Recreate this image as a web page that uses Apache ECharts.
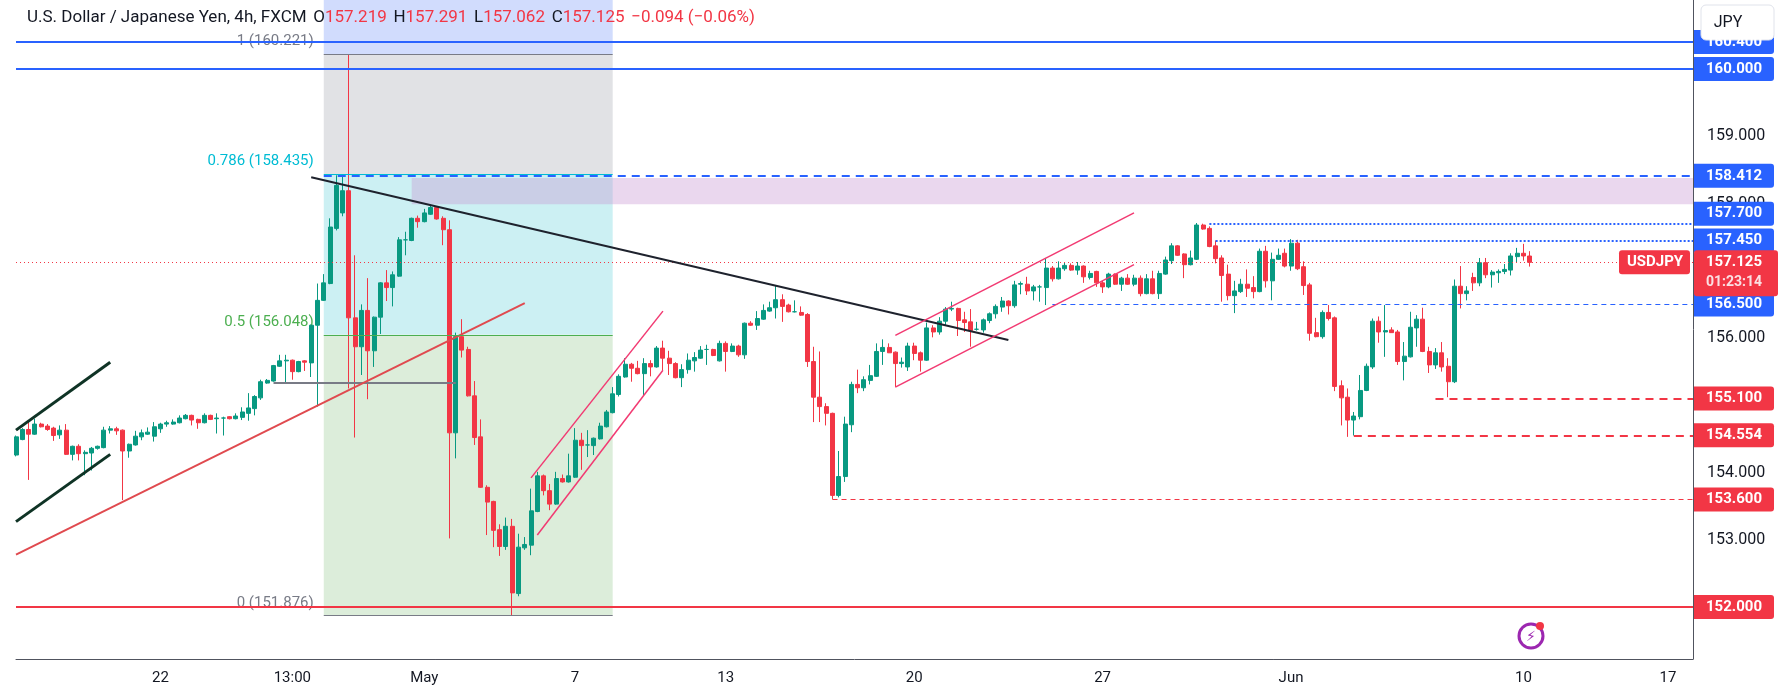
<!DOCTYPE html>
<html>
<head>
<meta charset="utf-8">
<script src="https://cdn.jsdelivr.net/npm/echarts@6/dist/echarts.min.js"></script>
<style>html,body{margin:0;padding:0;background:#fff}#chart{width:1778px;height:699px}</style>
</head>
<body>
<div id="chart"></div>
<script>
// 4h candles, [open, high, low, close]
var ohlc = [
[154.26,154.55,154.24,154.53],[154.49,154.66,154.48,154.64],[154.64,154.78,153.89,154.57],[154.57,154.80,154.56,154.72],
[154.72,154.74,154.67,154.68],[154.69,154.72,154.62,154.64],[154.66,154.68,154.47,154.55],[154.56,154.70,154.50,154.63],
[154.63,154.72,154.26,154.27],[154.27,154.40,154.18,154.39],[154.39,154.42,154.18,154.28],[154.28,154.33,153.96,154.30],
[154.29,154.38,154.03,154.36],[154.36,154.40,154.34,154.39],[154.37,154.68,154.36,154.63],[154.63,154.69,154.58,154.65],
[154.65,154.68,154.56,154.62],[154.63,154.64,153.59,154.32],[154.32,154.43,154.22,154.42],[154.41,154.62,154.40,154.54],
[154.53,154.64,154.48,154.59],[154.57,154.67,154.56,154.60],[154.54,154.75,154.46,154.68],[154.65,154.74,154.59,154.72],
[154.72,154.77,154.68,154.74],[154.72,154.79,154.71,154.75],[154.74,154.85,154.73,154.81],[154.80,154.87,154.79,154.85],
[154.85,154.86,154.70,154.78],[154.79,154.80,154.65,154.74],[154.74,154.88,154.73,154.85],[154.85,154.86,154.78,154.79],
[154.80,154.88,154.58,154.81],[154.81,154.83,154.55,154.81],[154.83,154.84,154.79,154.80],[154.80,154.88,154.79,154.84],
[154.82,154.97,154.78,154.90],[154.88,155.18,154.77,154.96],[154.95,155.15,154.85,155.13],[155.11,155.38,155.08,155.35],
[155.33,155.39,155.32,155.37],[155.36,155.60,155.35,155.59],[155.58,155.75,155.57,155.66],[155.66,155.75,155.32,155.67],
[155.67,155.68,155.38,155.50],[155.50,155.66,155.49,155.65],[155.66,155.67,155.51,155.64],[155.63,156.20,155.42,156.19],
[156.19,156.81,154.98,156.56],[156.56,156.95,156.55,156.82],[156.81,157.78,156.80,157.65],[157.63,158.42,157.60,158.27],
[157.86,158.42,157.81,158.19],[158.19,160.22,155.25,156.30],[156.30,157.23,154.52,155.87],[155.87,156.50,155.45,156.41],
[156.41,156.89,155.09,155.81],[155.81,156.32,155.57,156.31],[156.31,156.83,156.06,156.82],[156.82,157.01,156.55,156.75],
[156.75,156.99,156.47,156.94],[156.92,157.50,156.91,157.46],[157.46,157.58,157.23,157.46],[157.45,157.79,157.44,157.78],
[157.78,157.82,157.64,157.73],[157.73,157.92,157.72,157.86],[157.84,157.98,157.83,157.94],[157.94,157.96,157.76,157.77],
[157.78,157.81,157.38,157.61],[157.61,157.75,153.02,154.59],[154.59,156.08,154.21,156.02],[156.02,156.28,155.71,155.82],
[155.83,155.87,155.13,155.14],[155.14,155.36,154.41,154.52],[154.53,154.79,153.77,153.78],[153.78,153.81,153.07,153.56],
[153.57,153.58,152.89,153.14],[153.15,153.23,152.76,152.90],[152.90,153.33,152.85,153.20],[153.20,153.31,151.88,152.21],
[152.20,153.09,152.16,152.89],[152.88,153.04,152.85,152.93],[152.92,153.76,152.77,153.43],[153.42,154.01,153.41,153.95],
[153.95,153.97,153.66,153.73],[153.73,153.83,153.44,153.53],[153.53,154.01,153.52,153.91],[153.91,153.97,153.85,153.86],
[153.86,154.28,153.85,153.95],[153.93,154.66,153.92,154.48],[154.48,154.59,154.04,154.40],[154.41,154.63,154.23,154.41],
[154.40,154.52,154.26,154.51],[154.50,154.74,154.49,154.69],[154.68,154.93,154.67,154.90],[154.89,155.27,154.88,155.17],
[155.16,155.46,155.13,155.43],[155.42,155.70,155.41,155.61],[155.61,155.63,155.35,155.55],[155.55,155.66,155.46,155.47],
[155.47,155.70,155.15,155.62],[155.62,155.67,155.43,155.57],[155.57,155.88,155.56,155.85],[155.85,155.96,155.52,155.70],
[155.70,155.81,155.45,155.62],[155.62,155.64,155.40,155.41],[155.41,155.61,155.27,155.53],[155.53,155.77,155.47,155.67],
[155.66,155.79,155.50,155.71],[155.70,155.88,155.69,155.82],[155.83,155.90,155.60,155.83],[155.83,155.84,155.73,155.74],
[155.66,155.96,155.65,155.92],[155.92,155.95,155.50,155.80],[155.80,155.92,155.79,155.88],[155.88,155.90,155.72,155.75],
[155.75,156.23,155.69,156.22],[156.22,156.25,156.18,156.19],[156.19,156.40,156.12,156.29],[156.28,156.50,156.27,156.41],
[156.40,156.54,156.39,156.45],[156.45,156.78,156.29,156.57],[156.57,156.65,156.24,156.47],[156.49,156.51,156.38,156.39],
[156.39,156.56,156.38,156.39],[156.38,156.47,156.33,156.34],[156.35,156.37,155.57,155.65],[155.65,155.87,154.75,155.12],
[155.12,155.80,154.75,154.98],[154.98,155.03,154.70,154.88],[154.88,154.89,153.60,153.66],[153.66,154.32,153.63,153.94],
[153.94,154.83,153.86,154.72],[154.71,155.35,154.60,155.31],[155.31,155.53,155.18,155.26],[155.26,155.43,155.21,155.38],
[155.37,155.60,155.31,155.44],[155.43,155.92,155.42,155.80],[155.80,155.98,155.60,155.86],[155.86,155.92,155.78,155.78],
[155.79,155.80,155.27,155.62],[155.62,155.71,155.56,155.64],[155.57,155.93,155.51,155.88],[155.88,155.93,155.67,155.77],
[155.78,155.80,155.50,155.67],[155.67,156.23,155.66,156.15],[156.15,156.19,156.01,156.09],[156.09,156.31,156.05,156.25],
[156.25,156.46,156.19,156.43],[156.43,156.54,156.40,156.44],[156.44,156.45,156.03,156.26],[156.27,156.39,156.09,156.23],
[156.24,156.43,155.87,156.11],[156.13,156.24,156.11,156.13],[156.12,156.29,156.08,156.27],[156.26,156.38,156.22,156.36],
[156.36,156.50,156.29,156.47],[156.46,156.61,156.39,156.55],[156.55,156.56,156.35,156.48],[156.48,156.85,156.45,156.79],
[156.80,156.84,156.65,156.81],[156.80,156.91,156.64,156.70],[156.70,156.79,156.56,156.76],[156.76,156.79,156.54,156.76],
[156.75,157.19,156.49,157.04],[157.04,157.07,156.84,156.88],[156.88,157.14,156.87,157.04],[157.03,157.13,157.00,157.08],
[157.08,157.11,157.00,157.01],[157.01,157.13,156.94,157.07],[157.07,157.08,156.82,156.91],[156.90,157.00,156.87,156.96],
[156.99,157.00,156.76,156.82],[156.82,156.85,156.67,156.76],[156.76,156.97,156.74,156.95],[156.95,156.96,156.79,156.80],
[156.80,156.91,156.70,156.89],[156.89,156.95,156.79,156.80],[156.80,156.94,156.77,156.89],[156.89,156.93,156.62,156.66],
[156.66,156.95,156.65,156.88],[156.88,157.00,156.65,156.66],[156.66,157.00,156.58,156.96],[156.95,157.21,156.94,157.16],
[157.15,157.41,157.10,157.37],[157.37,157.38,157.22,157.23],[157.25,157.26,156.89,157.09],[157.09,157.30,157.08,157.19],
[157.17,157.71,157.16,157.68],[157.68,157.70,157.61,157.62],[157.63,157.66,157.35,157.36],[157.37,157.45,157.11,157.18],
[157.19,157.23,156.54,156.93],[156.95,157.09,156.56,156.63],[156.63,156.85,156.37,156.70],[156.69,156.88,156.67,156.80],
[156.80,157.02,156.61,156.74],[156.75,156.92,156.59,156.69],[156.69,157.33,156.68,157.29],[157.29,157.37,156.75,156.85],
[156.85,157.27,156.56,157.17],[157.17,157.33,157.16,157.23],[157.26,157.33,157.05,157.07],[157.07,157.47,157.00,157.41],
[157.41,157.46,157.01,157.03],[157.06,157.14,156.64,156.78],[156.79,156.82,155.96,156.07],[156.08,156.30,156.01,156.02],
[156.02,156.41,155.99,156.38],[156.38,156.49,156.26,156.29],[156.30,156.32,155.21,155.28],[155.29,155.37,154.70,155.11],
[155.12,155.25,154.53,154.78],[154.78,154.90,154.55,154.84],[154.83,155.45,154.79,155.22],[155.22,155.62,155.21,155.58],
[155.57,156.29,155.54,156.25],[156.25,156.32,155.93,156.09],[156.09,156.49,155.72,156.11],[156.12,156.16,156.08,156.08],
[156.09,156.12,155.60,155.65],[155.65,155.94,155.37,155.73],[155.72,156.39,155.71,156.16],[156.15,156.34,155.87,156.28],
[156.28,156.45,155.79,155.80],[155.80,155.87,155.48,155.60],[155.60,155.85,155.54,155.78],[155.78,155.94,155.50,155.57],
[155.58,155.70,155.12,155.35],[155.35,156.87,155.33,156.77],[156.77,157.07,156.44,156.66],[156.66,156.77,156.56,156.70],
[156.90,156.97,156.70,156.82],[156.82,157.19,156.77,157.12],[157.12,157.19,156.89,156.94],[156.94,157.01,156.75,156.98],
[156.97,157.02,156.82,156.99],[156.99,157.10,156.95,157.02],[157.01,157.26,156.93,157.22],[157.21,157.34,157.13,157.26],
[157.26,157.40,157.15,157.22],[157.219,157.291,157.062,157.125]
];
var slotCount = 268;  // includes empty space on the right
var xTicks = [[23,'22'],[44,'13:00'],[65,'May'],[89,'7'],[113,'13'],[143,'20'],[173,'27'],[203,'Jun'],[240,'10'],[263,'17']];
var yLabels = [152,153,154,155,156,157,158,159,160];
var yMin = 151.227, yMax = 161.026;

// fib retracement
var fibFrom = 49, fibTo = 95.3;
var fibLevels = [[160.221,'1 (160.221)','#787b86'],[158.435,'0.786 (158.435)','#00bcd4'],[156.048,'0.5 (156.048)','#4caf50'],[151.876,'0 (151.876)','#787b86']];
// horizontal levels: [price, start index, color, type, width, end index]
var levels = [
  [160.40, 0, '#2962ff', 'solid', 2],
  [160.00, 0, '#2962ff', 'solid', 2],
  [152.00, 0, '#f23645', 'solid', 2],
  [158.412, 49, '#2962ff', [8,6], 2],
  [157.70, 189.5, '#2962ff', 'dotted', 2],
  [157.45, 191.4, '#2962ff', 'dotted', 2],
  [156.50, 164.5, '#2962ff', [5,4], 1],
  [155.10, 225.6, '#f23645', [8,6], 2],
  [154.554, 212.7, '#f23645', [8,6], 2],
  [153.60, 129.5, '#f23645', [5,4], 1],
  [157.125, 0, '#f23645', [1,3], 1],
  [155.33, 41, '#787b86', 'solid', 2, 69.8]
];
var zone = [63.3, 158.38, 157.99];
// trend lines: [x1, p1, x2, p2, color, width]
var trends = [
  [46.6, 158.39, 157.6, 155.97, '#1e222d', 2],
  [0, 154.63, 15.2, 155.64, '#0f3325', 3],
  [0, 153.27, 15.2, 154.27, '#0f3325', 3],
  [0, 152.78, 81.3, 156.52, '#e04a4f', 2],
  [82.1, 153.92, 103.3, 156.40, '#f23a72', 1.5],
  [82.7, 153.07, 103.3, 155.52, '#f23a72', 1.5],
  [140.2, 156.04, 177.5, 157.86, '#f23a72', 1.5],
  [140.2, 155.27, 177.5, 157.09, '#f23a72', 1.5]
];
// right-scale tags: [price, text, color, pixel shift]
var tags = [
  [160.40, '160.400', '#2962ff', 0], [160.00, '160.000', '#2962ff', 0], [158.412, '158.412', '#2962ff', 0],
  [157.70, '157.700', '#2962ff', -10], [157.45, '157.450', '#2962ff', 0], [156.50, '156.500', '#2962ff', 0],
  [155.10, '155.100', '#f23645', 0], [154.554, '154.554', '#f23645', 0], [153.60, '153.600', '#f23645', 0],
  [152.00, '152.000', '#f23645', 0]
];

var cats = [];
for (var i = 0; i < slotCount; i++) cats.push(String(i));
var tickMap = {};
xTicks.forEach(function (t) { tickMap[t[0]] = t[1]; });

var candleData = ohlc.map(function (d) { return [d[0], d[3], d[2], d[1]]; });

var markLines = [];
levels.forEach(function (l) {
  markLines.push([
    {coord: [l[1], l[0]], lineStyle: {color: l[2], type: l[3], width: l[4]}},
    {coord: [l[5] || slotCount - 1, l[0]]}
  ]);
});
trends.forEach(function (t) {
  markLines.push([
    {coord: [t[0], t[1]], lineStyle: {color: t[4], type: 'solid', width: t[5]}},
    {coord: [t[2], t[3]]}
  ]);
});
fibLevels.forEach(function (f) {
  markLines.push([
    {coord: [fibFrom, f[0]], lineStyle: {color: f[2], type: 'solid', width: 1}},
    {coord: [fibTo, f[0]]}
  ]);
});

var chart = echarts.init(document.getElementById('chart'));
chart.setOption({
  animation: false,
  backgroundColor: '#ffffff',
  textStyle: {fontFamily: 'Roboto'},
  grid: {left: 16, right: 85, top: 0, bottom: 40},
  xAxis: {
    type: 'category', data: cats, boundaryGap: false,
    axisLine: {lineStyle: {color: '#50535e'}},
    axisTick: {show: false},
    splitLine: {show: false},
    axisLabel: {
      interval: function (idx) { return tickMap[idx] !== undefined; },
      formatter: function (v) { return tickMap[+v]; },
      color: '#131722', fontSize: 15, margin: 12
    }
  },
  yAxis: {
    type: 'value', position: 'right', min: yMin, max: yMax, scale: true,
    axisLine: {show: true, lineStyle: {color: '#50535e'}},
    axisTick: {show: false},
    splitLine: {show: false},
    axisLabel: {
      customValues: yLabels,
      formatter: function (v) { return v.toFixed(3); },
      color: '#131722', fontSize: 16, margin: 14
    }
  },
  series: [{
    type: 'candlestick',
    data: candleData,
    barWidth: 4.5,
    itemStyle: {color: '#089981', color0: '#f23645', borderColor: '#089981', borderColor0: '#f23645', borderWidth: 1},
    markArea: {
      silent: true,
      data: [
        [{coord: [fibFrom, yMax], itemStyle: {color: '#d1dcfd'}}, {coord: [fibTo, fibLevels[0][0]]}],
        [{coord: [fibFrom, fibLevels[0][0]], itemStyle: {color: '#e1e2e5'}}, {coord: [fibTo, fibLevels[1][0]]}],
        [{coord: [fibFrom, fibLevels[1][0]], itemStyle: {color: '#ccf0f3'}}, {coord: [fibTo, fibLevels[2][0]]}],
        [{coord: [fibFrom, fibLevels[2][0]], itemStyle: {color: '#dcedda'}}, {coord: [fibTo, fibLevels[3][0]]}],
        [{coord: [zone[0], zone[1]], itemStyle: {color: 'rgba(200,150,210,0.38)'}}, {coord: [slotCount - 1, zone[2]]}]
      ]
    },
    markLine: {silent: true, symbol: ['none', 'none'], label: {show: false}, data: markLines}
  }]
});

// overlays placed in pixel space from the chart's own scales
function px(x, p) { return chart.convertToPixel({xAxisIndex: 0, yAxisIndex: 0}, [x, p]); }
var g = [];
var axisX = px(slotCount - 1, 160)[0];
fibLevels.forEach(function (f) {
  var p = px(fibFrom, f[0]);
  g.push({type: 'text', x: p[0] - 10, y: p[1] - 5, style: {text: f[1], fill: f[2], font: '15px Roboto', textAlign: 'right', textVerticalAlign: 'bottom'}});
});
tags.forEach(function (t) {
  var y = px(0, t[0])[1] + t[3];
  g.push({type: 'rect', shape: {x: axisX + 1, y: y - 12, width: 80, height: 24, r: [0, 3, 3, 0]}, style: {fill: t[2]}, z: 100});
  g.push({type: 'text', x: axisX + 41, y: y, style: {text: t[1], fill: '#fff', font: 'bold 15px Roboto', textAlign: 'center', textVerticalAlign: 'middle'}, z: 101});
});
var cp = px(0, ohlc[ohlc.length - 1][3])[1];
g.push({type: 'rect', shape: {x: axisX + 1, y: cp - 12, width: 84, height: 46, r: 3}, style: {fill: '#f23645'}, z: 100});
g.push({type: 'text', x: axisX + 41, y: cp, style: {text: '157.125', fill: '#fff', font: 'bold 15px Roboto', textAlign: 'center', textVerticalAlign: 'middle'}, z: 101});
g.push({type: 'text', x: axisX + 41, y: cp + 20, style: {text: '01:23:14', fill: '#fbe0e3', font: 'bold 14px Roboto', textAlign: 'center', textVerticalAlign: 'middle'}, z: 101});
g.push({type: 'rect', shape: {x: axisX - 74, y: cp - 12, width: 71, height: 24, r: 3}, style: {fill: '#f23645'}, z: 100});
g.push({type: 'text', x: axisX - 38, y: cp, style: {text: 'USDJPY', fill: '#fff', font: 'bold 15px Roboto', textAlign: 'center', textVerticalAlign: 'middle'}, z: 101});
// header
g.push({type: 'text', left: 27, top: 9, z: 101, style: {
  text: '{n|U.S. Dollar / Japanese Yen, 4h, FXCM}  {k|O}{v|157.219}  {k|H}{v|157.291}  {k|L}{v|157.062}  {k|C}{v|157.125}  {v|\u22120.094 (\u22120.06%)}',
  rich: {n: {fill: '#131722', font: '17px Roboto'}, k: {fill: '#131722', font: '17px Roboto'}, v: {fill: '#f23645', font: '17px Roboto'}}
}});
// currency box
g.push({type: 'rect', shape: {x: 1701, y: 5, width: 73, height: 35, r: 5}, style: {fill: '#fff', stroke: '#e0e3eb', lineWidth: 1}, z: 100});
g.push({type: 'text', x: 1728, y: 23, style: {text: 'JPY', fill: '#131722', font: '16px Roboto', textAlign: 'center', textVerticalAlign: 'middle'}, z: 101});
// icon
g.push({type: 'circle', shape: {cx: 1531, cy: 636, r: 12}, style: {fill: 'none', stroke: '#9c27b0', lineWidth: 3}, z: 100});
g.push({type: 'text', x: 1531, y: 637, style: {text: '\u26A1', fill: '#9c27b0', font: '14px DejaVu Sans', textAlign: 'center', textVerticalAlign: 'middle'}, z: 101});
g.push({type: 'circle', shape: {cx: 1540, cy: 626, r: 4}, style: {fill: '#f23645'}, z: 102});
chart.setOption({graphic: g});
</script>
</body>
</html>
